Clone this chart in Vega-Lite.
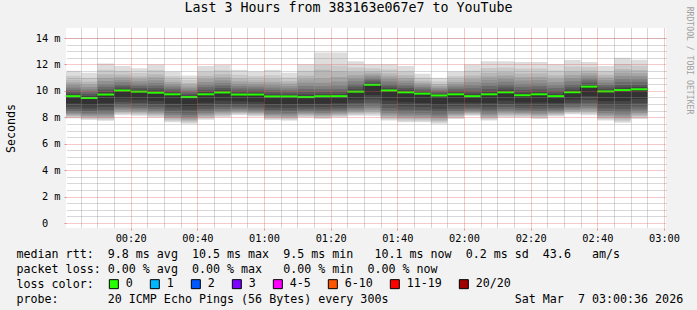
{
  "$schema": "https://vega.github.io/schema/vega-lite/v6.json",
  "width": 600,
  "height": 200,
  "autosize": {"type": "none"},
  "padding": {"left": 66, "top": 28, "right": 31, "bottom": 82},
  "background": "#f2f2f2",
  "config": {
    "font": "DejaVu Sans Mono",
    "view": {"fill": "#ffffff", "stroke": null},
    "axis": {"domain": false, "gridDash": [1, 1], "gridWidth": 1, "titleFontWeight": "normal", "titleColor": "#000000", "labelColor": "#000000", "labelFlush": false, "labelOverlap": false}
  },
  "title": {"text": "Last 3 Hours from 383163e067e7 to YouTube", "fontSize": 13.3, "fontWeight": "normal", "color": "#000000", "anchor": "middle", "dx": -17.5, "dy": 19, "baseline": "alphabetic", "offset": 0},
  "data": {"values": [
    {"start":0,"end":5,"loss":"0","p1":7.92,"p2":8.00,"p3":8.09,"p4":8.17,"p5":8.26,"p6":8.36,"p7":8.47,"p8":8.63,"p9":8.81,"p10":9.05,"p11":9.60,"p12":9.75,"p13":9.91,"p14":10.08,"p15":10.25,"p16":10.45,"p17":10.64,"p18":10.85,"p19":11.14,"p20":11.52},
    {"start":5,"end":10,"loss":"0","p1":7.80,"p2":7.88,"p3":7.97,"p4":8.05,"p5":8.13,"p6":8.23,"p7":8.35,"p8":8.50,"p9":8.68,"p10":8.91,"p11":9.46,"p12":9.61,"p13":9.77,"p14":9.94,"p15":10.11,"p16":10.30,"p17":10.49,"p18":10.70,"p19":10.99,"p20":11.37},
    {"start":10,"end":15,"loss":"0","p1":7.73,"p2":7.83,"p3":7.93,"p4":8.03,"p5":8.13,"p6":8.25,"p7":8.39,"p8":8.57,"p9":8.79,"p10":9.06,"p11":9.72,"p12":9.91,"p13":10.10,"p14":10.31,"p15":10.52,"p16":10.75,"p17":10.99,"p18":11.25,"p19":11.60,"p20":12.07},
    {"start":15,"end":20,"loss":"0","p1":8.16,"p2":8.25,"p3":8.35,"p4":8.44,"p5":8.53,"p6":8.65,"p7":8.78,"p8":8.95,"p9":9.15,"p10":9.41,"p11":10.03,"p12":10.18,"p13":10.33,"p14":10.49,"p15":10.66,"p16":10.84,"p17":11.03,"p18":11.23,"p19":11.51,"p20":11.88},
    {"start":20,"end":25,"loss":"0","p1":8.11,"p2":8.20,"p3":8.29,"p4":8.38,"p5":8.48,"p6":8.59,"p7":8.71,"p8":8.88,"p9":9.08,"p10":9.34,"p11":9.94,"p12":10.08,"p13":10.22,"p14":10.38,"p15":10.54,"p16":10.72,"p17":10.90,"p18":11.09,"p19":11.36,"p20":11.71},
    {"start":25,"end":30,"loss":"0","p1":7.99,"p2":8.08,"p3":8.18,"p4":8.27,"p5":8.36,"p6":8.48,"p7":8.61,"p8":8.78,"p9":8.98,"p10":9.24,"p11":9.86,"p12":10.03,"p13":10.20,"p14":10.40,"p15":10.59,"p16":10.80,"p17":11.02,"p18":11.25,"p19":11.57,"p20":12.00},
    {"start":30,"end":35,"loss":"0","p1":7.63,"p2":7.74,"p3":7.84,"p4":7.95,"p5":8.05,"p6":8.18,"p7":8.33,"p8":8.52,"p9":8.75,"p10":9.04,"p11":9.74,"p12":9.88,"p13":10.02,"p14":10.17,"p15":10.33,"p16":10.50,"p17":10.67,"p18":10.87,"p19":11.12,"p20":11.47},
    {"start":35,"end":40,"loss":"0","p1":7.51,"p2":7.61,"p3":7.71,"p4":7.81,"p5":7.91,"p6":8.04,"p7":8.18,"p8":8.36,"p9":8.58,"p10":8.86,"p11":9.53,"p12":9.66,"p13":9.79,"p14":9.94,"p15":10.08,"p16":10.25,"p17":10.41,"p18":10.59,"p19":10.83,"p20":11.16},
    {"start":40,"end":45,"loss":"0","p1":7.82,"p2":7.92,"p3":8.01,"p4":8.11,"p5":8.20,"p6":8.32,"p7":8.45,"p8":8.63,"p9":8.84,"p10":9.11,"p11":9.74,"p12":9.91,"p13":10.08,"p14":10.28,"p15":10.47,"p16":10.68,"p17":10.90,"p18":11.13,"p19":11.45,"p20":11.88},
    {"start":45,"end":50,"loss":"0","p1":8.00,"p2":8.09,"p3":8.19,"p4":8.28,"p5":8.38,"p6":8.49,"p7":8.62,"p8":8.79,"p9":9.00,"p10":9.26,"p11":9.88,"p12":10.05,"p13":10.22,"p14":10.41,"p15":10.59,"p16":10.80,"p17":11.01,"p18":11.25,"p19":11.56,"p20":11.98},
    {"start":50,"end":55,"loss":"0","p1":8.16,"p2":8.24,"p3":8.32,"p4":8.39,"p5":8.47,"p6":8.57,"p7":8.68,"p8":8.82,"p9":8.99,"p10":9.21,"p11":9.72,"p12":9.87,"p13":10.02,"p14":10.19,"p15":10.36,"p16":10.54,"p17":10.73,"p18":10.94,"p19":11.22,"p20":11.59},
    {"start":55,"end":60,"loss":"0","p1":8.06,"p2":8.14,"p3":8.23,"p4":8.31,"p5":8.39,"p6":8.49,"p7":8.61,"p8":8.76,"p9":8.94,"p10":9.17,"p11":9.72,"p12":9.86,"p13":10.00,"p14":10.16,"p15":10.32,"p16":10.49,"p17":10.67,"p18":10.86,"p19":11.12,"p20":11.47},
    {"start":60,"end":65,"loss":"0","p1":7.80,"p2":7.89,"p3":7.98,"p4":8.07,"p5":8.16,"p6":8.26,"p7":8.39,"p8":8.55,"p9":8.74,"p10":8.99,"p11":9.58,"p12":9.74,"p13":9.90,"p14":10.08,"p15":10.26,"p16":10.46,"p17":10.67,"p18":10.89,"p19":11.19,"p20":11.59},
    {"start":65,"end":70,"loss":"0","p1":7.75,"p2":7.84,"p3":7.93,"p4":8.02,"p5":8.12,"p6":8.23,"p7":8.35,"p8":8.52,"p9":8.72,"p10":8.98,"p11":9.58,"p12":9.72,"p13":9.87,"p14":10.03,"p15":10.19,"p16":10.37,"p17":10.55,"p18":10.74,"p19":11.01,"p20":11.37},
    {"start":70,"end":75,"loss":"0","p1":7.99,"p2":8.07,"p3":8.14,"p4":8.22,"p5":8.30,"p6":8.39,"p7":8.50,"p8":8.64,"p9":8.81,"p10":9.02,"p11":9.53,"p12":9.73,"p13":9.93,"p14":10.15,"p15":10.38,"p16":10.63,"p17":10.88,"p18":11.15,"p19":11.52,"p20":12.02},
    {"start":75,"end":80,"loss":"0","p1":7.87,"p2":7.96,"p3":8.04,"p4":8.13,"p5":8.22,"p6":8.32,"p7":8.44,"p8":8.60,"p9":8.79,"p10":9.03,"p11":9.60,"p12":9.75,"p13":9.92,"p14":10.12,"p15":10.35,"p16":10.62,"p17":10.95,"p18":11.60,"p19":11.95,"p20":12.91},
    {"start":80,"end":85,"loss":"0","p1":7.99,"p2":8.07,"p3":8.15,"p4":8.23,"p5":8.31,"p6":8.41,"p7":8.52,"p8":8.67,"p9":8.84,"p10":9.07,"p11":9.60,"p12":9.76,"p13":9.94,"p14":10.15,"p15":10.40,"p16":10.70,"p17":11.05,"p18":11.50,"p19":11.90,"p20":12.91},
    {"start":85,"end":90,"loss":"0","p1":8.11,"p2":8.20,"p3":8.29,"p4":8.38,"p5":8.48,"p6":8.59,"p7":8.71,"p8":8.88,"p9":9.08,"p10":9.34,"p11":9.94,"p12":10.12,"p13":10.31,"p14":10.52,"p15":10.72,"p16":10.95,"p17":11.18,"p18":11.44,"p19":11.78,"p20":12.24},
    {"start":90,"end":95,"loss":"0","p1":8.11,"p2":8.23,"p3":8.35,"p4":8.46,"p5":8.58,"p6":8.72,"p7":8.89,"p8":9.10,"p9":9.36,"p10":9.68,"p11":10.46,"p12":10.59,"p13":10.71,"p14":10.85,"p15":10.99,"p16":11.15,"p17":11.30,"p18":11.47,"p19":11.71,"p20":12.02},
    {"start":95,"end":100,"loss":"0","p1":7.75,"p2":7.86,"p3":7.98,"p4":8.09,"p5":8.21,"p6":8.34,"p7":8.50,"p8":8.71,"p9":8.96,"p10":9.28,"p11":10.03,"p12":10.19,"p13":10.35,"p14":10.53,"p15":10.71,"p16":10.91,"p17":11.11,"p18":11.32,"p19":11.62,"p20":12.02},
    {"start":100,"end":105,"loss":"0","p1":7.63,"p2":7.74,"p3":7.86,"p4":7.97,"p5":8.08,"p6":8.22,"p7":8.38,"p8":8.58,"p9":8.83,"p10":9.14,"p11":9.89,"p12":10.05,"p13":10.21,"p14":10.39,"p15":10.57,"p16":10.77,"p17":10.97,"p18":11.18,"p19":11.48,"p20":11.88},
    {"start":105,"end":110,"loss":"0","p1":7.63,"p2":7.74,"p3":7.85,"p4":7.95,"p5":8.06,"p6":8.19,"p7":8.34,"p8":8.54,"p9":8.78,"p10":9.08,"p11":9.79,"p12":9.91,"p13":10.03,"p14":10.17,"p15":10.30,"p16":10.45,"p17":10.61,"p18":10.77,"p19":11.00,"p20":11.30},
    {"start":110,"end":115,"loss":"0","p1":7.51,"p2":7.62,"p3":7.72,"p4":7.83,"p5":7.94,"p6":8.07,"p7":8.22,"p8":8.41,"p9":8.64,"p10":8.94,"p11":9.65,"p12":9.76,"p13":9.86,"p14":9.99,"p15":10.11,"p16":10.24,"p17":10.37,"p18":10.52,"p19":10.72,"p20":10.99},
    {"start":115,"end":120,"loss":"0","p1":7.87,"p2":7.96,"p3":8.06,"p4":8.15,"p5":8.24,"p6":8.36,"p7":8.49,"p8":8.66,"p9":8.86,"p10":9.12,"p11":9.74,"p12":9.88,"p13":10.02,"p14":10.17,"p15":10.33,"p16":10.50,"p17":10.67,"p18":10.87,"p19":11.12,"p20":11.47},
    {"start":120,"end":125,"loss":"0","p1":8.11,"p2":8.18,"p3":8.26,"p4":8.33,"p5":8.41,"p6":8.50,"p7":8.60,"p8":8.74,"p9":8.90,"p10":9.11,"p11":9.60,"p12":9.79,"p13":9.98,"p14":10.20,"p15":10.42,"p16":10.66,"p17":10.90,"p18":11.16,"p19":11.52,"p20":12.00},
    {"start":125,"end":130,"loss":"0","p1":7.75,"p2":7.85,"p3":7.95,"p4":8.05,"p5":8.15,"p6":8.27,"p7":8.41,"p8":8.59,"p9":8.81,"p10":9.08,"p11":9.74,"p12":9.94,"p13":10.14,"p14":10.37,"p15":10.59,"p16":10.84,"p17":11.09,"p18":11.37,"p19":11.74,"p20":12.24},
    {"start":130,"end":135,"loss":"0","p1":7.99,"p2":8.09,"p3":8.18,"p4":8.28,"p5":8.37,"p6":8.48,"p7":8.62,"p8":8.79,"p9":9.00,"p10":9.26,"p11":9.89,"p12":10.08,"p13":10.27,"p14":10.48,"p15":10.69,"p16":10.92,"p17":11.16,"p18":11.42,"p19":11.77,"p20":12.24},
    {"start":135,"end":140,"loss":"0","p1":7.99,"p2":8.07,"p3":8.16,"p4":8.24,"p5":8.33,"p6":8.43,"p7":8.54,"p8":8.70,"p9":8.88,"p10":9.12,"p11":9.67,"p12":9.87,"p13":10.07,"p14":10.30,"p15":10.53,"p16":10.78,"p17":11.03,"p18":11.31,"p19":11.69,"p20":12.19},
    {"start":140,"end":145,"loss":"0","p1":7.87,"p2":7.96,"p3":8.06,"p4":8.15,"p5":8.24,"p6":8.36,"p7":8.49,"p8":8.66,"p9":8.86,"p10":9.12,"p11":9.74,"p12":9.94,"p13":10.13,"p14":10.35,"p15":10.57,"p16":10.82,"p17":11.06,"p18":11.33,"p19":11.70,"p20":12.19},
    {"start":145,"end":150,"loss":"0","p1":8.06,"p2":8.14,"p3":8.21,"p4":8.29,"p5":8.37,"p6":8.46,"p7":8.57,"p8":8.71,"p9":8.88,"p10":9.09,"p11":9.60,"p12":9.79,"p13":9.99,"p14":10.21,"p15":10.42,"p16":10.67,"p17":10.91,"p18":11.17,"p19":11.54,"p20":12.02},
    {"start":150,"end":155,"loss":"0","p1":8.23,"p2":8.31,"p3":8.40,"p4":8.48,"p5":8.56,"p6":8.66,"p7":8.78,"p8":8.93,"p9":9.11,"p10":9.34,"p11":9.89,"p12":10.09,"p13":10.28,"p14":10.50,"p15":10.72,"p16":10.97,"p17":11.21,"p18":11.48,"p19":11.85,"p20":12.34},
    {"start":155,"end":160,"loss":"0","p1":8.16,"p2":8.27,"p3":8.38,"p4":8.48,"p5":8.59,"p6":8.72,"p7":8.87,"p8":9.07,"p9":9.31,"p10":9.61,"p11":10.32,"p12":10.47,"p13":10.62,"p14":10.79,"p15":10.96,"p16":11.14,"p17":11.33,"p18":11.54,"p19":11.82,"p20":12.19},
    {"start":160,"end":165,"loss":"0","p1":7.75,"p2":7.86,"p3":7.97,"p4":8.08,"p5":8.19,"p6":8.33,"p7":8.48,"p8":8.68,"p9":8.92,"p10":9.23,"p11":9.96,"p12":10.11,"p13":10.27,"p14":10.44,"p15":10.61,"p16":10.81,"p17":11.00,"p18":11.21,"p19":11.50,"p20":11.88},
    {"start":165,"end":170,"loss":"0","p1":7.58,"p2":7.70,"p3":7.83,"p4":7.95,"p5":8.08,"p6":8.23,"p7":8.40,"p8":8.62,"p9":8.89,"p10":9.24,"p11":10.06,"p12":10.26,"p13":10.45,"p14":10.67,"p15":10.89,"p16":11.13,"p17":11.38,"p18":11.65,"p19":12.01,"p20":12.50},
    {"start":170,"end":175,"loss":"0","p1":7.87,"p2":7.98,"p3":8.10,"p4":8.21,"p5":8.32,"p6":8.46,"p7":8.61,"p8":8.82,"p9":9.06,"p10":9.38,"p11":10.12,"p12":10.30,"p13":10.48,"p14":10.68,"p15":10.88,"p16":11.11,"p17":11.33,"p18":11.58,"p19":11.91,"p20":12.36}
  ]},
  "encoding": {"x": {"field": "start", "type": "quantitative", "axis": null}},
  "layer": [
    {"mark": {"type": "rect", "color": "#dddddd", "clip": true},
     "encoding": {
       "x": {"field": "start", "type": "quantitative",
             "scale": {"domain": [0.6, 180.6], "nice": false, "zero": false},
             "axis": {"orient": "bottom", "values": [20, 40, 60, 80, 100, 120, 140, 160, 180], "labelExpr": "(datum.value < 600 ? '0' : '') + floor(datum.value / 60) + ':' + (datum.value % 60 < 10 ? '0' : '') + (datum.value % 60)", "labelFontSize": 10.3, "labelPadding": 3, "ticks": true, "tickSize": 2, "tickColor": "#de4f4f", "tickOpacity": 0.6, "grid": true, "gridColor": "#de4f4f", "gridOpacity": 0.6, "zindex": 2,
                      "title": ["median rtt:\u00a0\u00a09.8 ms avg\u00a0\u00a010.5 ms max\u00a0\u00a09.5 ms min\u00a0\u00a0\u00a010.1 ms now\u00a0\u00a00.2 ms sd\u00a0\u00a043.6\u00a0\u00a0\u00a0am/s", "packet loss: 0.00 % avg\u00a0\u00a00.00 % max\u00a0\u00a0\u00a00.00 % min\u00a0\u00a00.00 % now", "loss color:", "probe:\u00a0\u00a0\u00a0\u00a0\u00a0\u00a0\u00a020 ICMP Echo Pings (56 Bytes) every 300s\u00a0\u00a0\u00a0\u00a0\u00a0\u00a0\u00a0\u00a0\u00a0\u00a0\u00a0\u00a0\u00a0\u00a0\u00a0\u00a0\u00a0\u00a0Sat Mar\u00a0\u00a07 03:00:36 2026"],
                      "titleFontSize": 11.66, "titleX": -50, "titleY": 29, "titleAlign": "left", "titleAnchor": "start", "titleBaseline": "alphabetic", "titleLineHeight": 15}},
       "x2": {"field": "end"},
       "y": {"field": "p1", "type": "quantitative", "scale": {"domain": [0, 14.38], "nice": false},
             "axis": {"orient": "left", "values": [0, 2, 4, 6, 8, 10, 12, 14], "labelExpr": "datum.value == 0 ? '0\u00a0\u00a0\u200b' : datum.value + '\u00a0m'", "labelFontSize": 10.3, "labelPadding": 4, "ticks": true, "tickSize": 2, "tickColor": "#de4f4f", "tickOpacity": 0.6, "grid": true, "gridColor": "#de4f4f", "gridOpacity": 0.6, "zindex": 2,
                      "title": "Seconds", "titleFontSize": 11.66, "titleAngle": 270, "titleX": -55, "titleY": 100, "titleAlign": "center", "titleBaseline": "middle"}},
       "y2": {"field": "p20"}
     }},
    {"mark": {"type": "rect", "color": "#cacaca", "clip": true}, "encoding": {"x2": {"field": "end"}, "y": {"field": "p2", "type": "quantitative", "axis": null}, "y2": {"field": "p19"}}},
    {"mark": {"type": "rect", "color": "#b7b7b7", "clip": true}, "encoding": {"x2": {"field": "end"}, "y": {"field": "p3", "type": "quantitative", "axis": null}, "y2": {"field": "p18"}}},
    {"mark": {"type": "rect", "color": "#a4a4a4", "clip": true}, "encoding": {"x2": {"field": "end"}, "y": {"field": "p4", "type": "quantitative", "axis": null}, "y2": {"field": "p17"}}},
    {"mark": {"type": "rect", "color": "#919191", "clip": true}, "encoding": {"x2": {"field": "end"}, "y": {"field": "p5", "type": "quantitative", "axis": null}, "y2": {"field": "p16"}}},
    {"mark": {"type": "rect", "color": "#7e7e7e", "clip": true}, "encoding": {"x2": {"field": "end"}, "y": {"field": "p6", "type": "quantitative", "axis": null}, "y2": {"field": "p15"}}},
    {"mark": {"type": "rect", "color": "#6b6b6b", "clip": true}, "encoding": {"x2": {"field": "end"}, "y": {"field": "p7", "type": "quantitative", "axis": null}, "y2": {"field": "p14"}}},
    {"mark": {"type": "rect", "color": "#585858", "clip": true}, "encoding": {"x2": {"field": "end"}, "y": {"field": "p8", "type": "quantitative", "axis": null}, "y2": {"field": "p13"}}},
    {"mark": {"type": "rect", "color": "#454545", "clip": true}, "encoding": {"x2": {"field": "end"}, "y": {"field": "p9", "type": "quantitative", "axis": null}, "y2": {"field": "p12"}}},
    {"mark": {"type": "rect", "color": "#323232", "clip": true}, "encoding": {"x2": {"field": "end"}, "y": {"field": "p10", "type": "quantitative", "axis": null}, "y2": {"field": "p11"}}},
    {"mark": {"type": "line", "interpolate": "step-after", "color": "#1f1f1f", "strokeWidth": 1, "clip": true},
     "encoding": {"y": {"field": "p11", "type": "quantitative", "axis": null}}},
    {"mark": {"type": "bar", "orient": "horizontal", "height": 2, "clip": true},
     "encoding": {
       "x2": {"field": "end"},
       "y": {"field": "p11", "type": "quantitative", "axis": null},
       "color": {"field": "loss", "type": "nominal",
                 "scale": {"domain": ["0", "1", "2", "3", "4-5", "6-10", "11-19", "20/20"], "range": ["#26ff00", "#00b8ff", "#0059ff", "#7e00ff", "#ff00ff", "#ff5500", "#ff0000", "#a00000"]},
                 "legend": {"orient": "none", "legendX": 42, "legendY": 250, "direction": "horizontal", "padding": 0, "title": null,
                            "labelFontSize": 11.66, "labelColor": "#000000", "labelOffset": 6, "columnPadding": 15,
                            "symbolType": "square", "symbolSize": 81, "symbolStrokeColor": "#000000", "symbolStrokeWidth": 1, "symbolOpacity": 1}}
     }},
    {"mark": {"type": "point", "opacity": 0},
     "encoding": {
       "x": {"field": "start", "type": "quantitative",
             "axis": {"orient": "bottom", "values": [5, 10, 15, 25, 30, 35, 45, 50, 55, 65, 70, 75, 85, 90, 95, 105, 110, 115, 125, 130, 135, 145, 150, 155, 165, 170, 175], "labels": false, "ticks": false, "grid": true, "gridColor": "#8f8f8f", "gridOpacity": 0.7, "zindex": 1, "title": null}},
       "y": {"field": "p11", "type": "quantitative",
             "axis": {"orient": "right", "values": [0.5, 1, 1.5, 2.5, 3, 3.5, 4.5, 5, 5.5, 6.5, 7, 7.5, 8.5, 9, 9.5, 10.5, 11, 11.5, 12.5, 13, 13.5, 14], "labels": false, "ticks": false, "grid": true, "gridColor": "#8f8f8f", "gridOpacity": 0.7, "zindex": 1,
                      "title": "RRDTOOL / TOBI OETIKER", "titleFontSize": 8.14, "titleColor": "#a0a0a0", "titleAngle": 90, "titleX": 22, "titleY": 32, "titleAlign": "center", "titleBaseline": "middle"}}
     }},
    {"data": {"values": [{}]},
     "mark": {"type": "rule", "color": "#1f1f1f", "xOffset": 0.5},
     "encoding": {
       "x": {"datum": 0.6, "type": "quantitative", "axis": null},
       "y": {"datum": -0.22, "type": "quantitative", "axis": null},
       "y2": {"datum": 14.8}
     }},
    {"data": {"values": [{}]},
     "mark": {"type": "rule", "color": "#1f1f1f", "yOffset": 0.5},
     "encoding": {
       "x": {"datum": -0.4, "type": "quantitative", "axis": null},
       "x2": {"datum": 181.2},
       "y": {"datum": 0, "type": "quantitative", "axis": null}
     }},
    {"data": {"values": [{}]},
     "mark": {"type": "point", "shape": "triangle-up", "filled": true, "color": "#801f1f", "size": 36, "opacity": 1, "xOffset": 0.5},
     "encoding": {
       "x": {"datum": 0.6, "type": "quantitative", "axis": null},
       "y": {"datum": 14.7, "type": "quantitative", "axis": null}
     }},
    {"data": {"values": [{}]},
     "mark": {"type": "point", "shape": "triangle-right", "filled": true, "color": "#801f1f", "size": 36, "opacity": 1, "yOffset": 0.5},
     "encoding": {
       "x": {"datum": 181.9, "type": "quantitative", "axis": null},
       "y": {"datum": 0, "type": "quantitative", "axis": null}
     }}
  ],
  "resolve": {"axis": {"x": "independent", "y": "independent"}}
}
